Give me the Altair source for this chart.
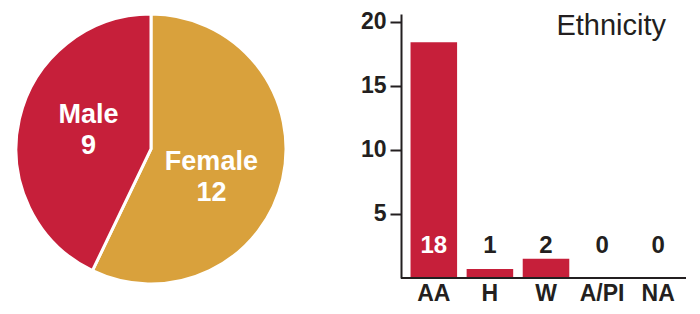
import altair as alt
import pandas as pd

# ---- data ----
genders = ["Female", "Male"]
gender_counts = [12, 9]
gender_labels = ["Female\n12", "Male\n9"]
gender_colors = ["#D9A13C", "#C61F3A"]

ethnicities = ["AA", "H", "W", "A/PI", "NA"]
bar_heights = [18.4, 0.7, 1.5, 0, 0]
count_labels = ["18", "1", "2", "0", "0"]
y_ticks = [5, 10, 15, 20]
panel_title = "Ethnicity"

RED = "#C61F3A"
DARK = "#231F20"
FONT = "Liberation Sans, Arial, sans-serif"
TOTAL = sum(gender_counts)

# ---- pie ----
pie_df = pd.DataFrame({"gender": genders, "count": gender_counts,
                       "label": gender_labels, "order": list(range(len(genders)))})

arcs = alt.Chart(pie_df).mark_arc(radius=135, stroke="white", strokeWidth=3).encode(
    theta=alt.Theta("count:Q", stack=True),
    order=alt.Order("order:Q"),
    color=alt.Color("gender:N", scale=alt.Scale(domain=genders, range=gender_colors), legend=None),
)

txt_base = alt.Chart(pie_df).transform_window(
    cum="sum(count)", sort=[alt.SortField("order")]
).transform_calculate(mid="datum.cum - datum.count / 2")

txt_style = dict(radius=64, font=FONT, fontSize=27, fontWeight="bold", color="white",
                 lineBreak="\n", lineHeight=31, align="center", baseline="middle")
theta_mid = alt.Theta("mid:Q", scale=alt.Scale(domain=[0, TOTAL]))
male_txt = txt_base.transform_filter(alt.datum.gender == "Male").mark_text(
    dy=-20, **txt_style).encode(theta=theta_mid, text="label:N")
female_txt = txt_base.transform_filter(alt.datum.gender == "Female").mark_text(
    dy=-1, dx=-2, **txt_style).encode(theta=theta_mid, text="label:N")

pie = alt.layer(arcs, male_txt, female_txt).properties(width=270, height=270)

# ---- bars ----
bar_df = pd.DataFrame({"eth": ethnicities, "h": bar_heights, "lab": count_labels})

x_enc = alt.X("eth:N", sort=ethnicities,
              scale=alt.Scale(paddingInner=0.17, paddingOuter=0.17),
              axis=alt.Axis(title=None, labelAngle=0, domain=False, ticks=False,
                            labelFont=FONT, labelFontSize=23, labelFontWeight="bold",
                            labelColor=DARK, labelPadding=4))
y_enc = alt.Y("h:Q", scale=alt.Scale(domain=[0, 20.6], nice=False),
              axis=alt.Axis(values=y_ticks, title=None, grid=False,
                            domainColor=DARK, domainWidth=2, tickColor=DARK,
                            tickWidth=2, tickSize=11, labelFont=FONT, labelFontSize=23,
                            labelFontWeight="bold", labelColor=DARK, labelPadding=4))

bar_base = alt.Chart(bar_df).encode(x=x_enc)
bars = bar_base.mark_bar(color=RED).encode(y=y_enc)
bar_txt = bar_base.mark_text(font=FONT, fontSize=24, fontWeight="bold",
                             baseline="alphabetic", dy=-25).encode(
    y=alt.datum(0),
    text="lab:N",
    color=alt.condition(alt.datum.h > 5, alt.value("white"), alt.value(DARK)),
)
baseline = alt.Chart(bar_df).mark_rule(color=DARK, strokeWidth=2).encode(
    x=alt.value(0), x2=alt.value(285), y=alt.value(264))
title_txt = alt.Chart(pd.DataFrame({"t": [panel_title]})).mark_text(
    font=FONT, fontSize=29, color=DARK, align="right",
    baseline="alphabetic").encode(x=alt.value(265), y=alt.value(21), text="t:N")

bar_chart = alt.layer(bars, bar_txt, baseline, title_txt).properties(width=290, height=264)

chart = alt.hconcat(pie, bar_chart, spacing=68).properties(
    padding={"left": 2, "top": 0, "right": 0, "bottom": 0}
).configure_view(stroke=None)

chart.save("out.html", embed_options={"renderer": "svg", "actions": False})
